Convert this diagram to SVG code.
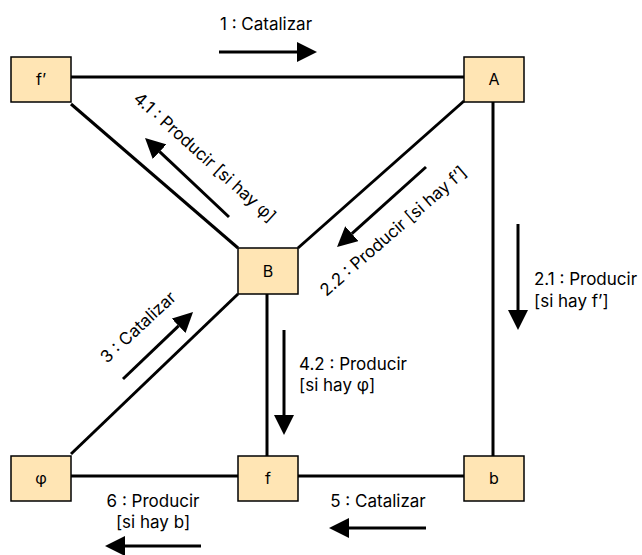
<svg xmlns="http://www.w3.org/2000/svg" width="642" height="555" viewBox="0 0 642 555">
  <style>
    .node rect { fill: #FFE5B4; stroke: #000; stroke-width: 1.5; }
    .node text { font-family: Inter, "Noto Sans", sans-serif; font-size: 16px; fill: #000; text-anchor: middle; }
    .edge { stroke: #000; stroke-width: 3; fill: none; }
    .msg { stroke: #000; stroke-width: 3; fill: none; marker-end: url(#head); }
    .lbl { font-family: Inter, "Noto Sans", sans-serif; font-size: 17px; fill: #000; }
  </style>
  <defs>
    <marker id="head" viewBox="0 -10 20 20" refX="0" refY="0" markerWidth="20" markerHeight="20" markerUnits="userSpaceOnUse" orient="auto">
      <path d="M0,-10 L20,0 L0,10 z" fill="#000"/>
    </marker>
  </defs>

  <!-- links between objects -->
  <g id="connectors">
    <line class="edge" x1="71" y1="77" x2="464" y2="77"/>
    <line class="edge" x1="71" y1="104" x2="238" y2="248"/>
    <line class="edge" x1="464" y1="101" x2="298" y2="248"/>
    <line class="edge" x1="493" y1="102" x2="493" y2="456"/>
    <line class="edge" x1="267" y1="294" x2="267" y2="456"/>
    <line class="edge" x1="238" y1="294" x2="71" y2="454"/>
    <line class="edge" x1="71" y1="476" x2="238" y2="476"/>
    <line class="edge" x1="298" y1="476" x2="464" y2="476"/>

    <!-- message arrows -->
    <line class="msg" x1="219" y1="52" x2="297" y2="52"/>
    <line class="msg" x1="229" y1="217" x2="159.6" y2="151.7"/>
    <line class="msg" x1="426" y1="167" x2="351.9" y2="233.6"/>
    <line class="msg" x1="518" y1="224" x2="518" y2="310"/>
    <line class="msg" x1="284" y1="330" x2="284" y2="415"/>
    <line class="msg" x1="123" y1="379" x2="178.6" y2="325.8"/>
    <line class="msg" x1="201" y1="546" x2="125" y2="546"/>
    <line class="msg" x1="426" y1="528" x2="349" y2="528"/>
  </g>

  <!-- message labels -->
  <g id="labels">
    <text class="lbl" x="266" y="30" text-anchor="middle">1 : Catalizar</text>
    <text class="lbl" transform="translate(205,157) rotate(42)" y="6" text-anchor="middle">4.1 : Producir [si hay φ]</text>
    <text class="lbl" transform="translate(393,231) rotate(-41)" y="6" text-anchor="middle">2.2 : Producir [si hay f’]</text>
    <text class="lbl" x="534" y="285">2.1 : Producir</text>
    <text class="lbl" x="534" y="307">[si hay f’]</text>
    <text class="lbl" x="299" y="370">4.2 : Producir</text>
    <text class="lbl" x="299" y="391">[si hay φ]</text>
    <text class="lbl" transform="translate(138,327) rotate(-43)" y="6" text-anchor="middle">3 : Catalizar</text>
    <text class="lbl" x="153" y="507" text-anchor="middle">6 : Producir</text>
    <text class="lbl" x="153" y="528" text-anchor="middle">[si hay b]</text>
    <text class="lbl" x="378" y="507" text-anchor="middle">5 : Catalizar</text>
  </g>

  <g id="node-fprime" class="node"><rect x="11" y="57" width="60" height="45"/><text x="41" y="85">f’</text></g>
  <g id="node-A" class="node"><rect x="464" y="57" width="60" height="45"/><text x="494" y="85">A</text></g>
  <g id="node-B" class="node"><rect x="238" y="248" width="60" height="46"/><text x="268" y="277">B</text></g>
  <g id="node-phi" class="node"><rect x="11" y="456" width="60" height="45"/><text x="41" y="484">φ</text></g>
  <g id="node-f" class="node"><rect x="238" y="456" width="60" height="45"/><text x="268" y="484">f</text></g>
  <g id="node-b" class="node"><rect x="464" y="456" width="60" height="45"/><text x="494" y="484">b</text></g>
</svg>
